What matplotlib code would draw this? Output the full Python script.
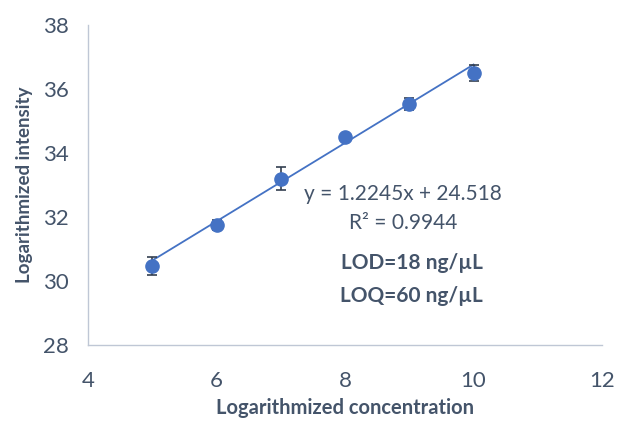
import numpy as np
import matplotlib
matplotlib.use('Agg')
import matplotlib.pyplot as plt

# Data
conc = [5, 6, 7, 8, 9, 10]
intensity = [30.47, 31.75, 33.19, 34.50, 35.53, 36.50]
err = [0.27, 0.15, 0.36, 0.08, 0.20, 0.25]
slope, intercept = 1.2245, 24.518

plt.rcParams['font.family'] = ['Lato', 'DejaVu Sans']
text_color = '#44546A'
axis_color = '#BFC7D5'
blue = '#4472C4'

fig = plt.figure(figsize=(6.26, 4.22), dpi=100)
ax = fig.add_axes([0.1406, 0.1825, 0.8211, 0.7583])

# trendline
xt = np.array([conc[0], conc[-1]])
ax.plot(xt, slope * xt + intercept, color=blue, lw=1.3, zorder=2)

ax.errorbar(conc, intensity, yerr=err, fmt='o', color=blue, ms=9.5,
            ecolor='#333F50', elinewidth=1.2, capsize=3.5, capthick=1.2, zorder=3)

ax.set_xlim(4, 12)
ax.set_ylim(28, 38)
ax.set_xticks([4, 6, 8, 10, 12])
ax.set_yticks([28, 30, 32, 34, 36, 38])
ax.tick_params(length=0, labelsize=16, labelcolor=text_color)
ax.tick_params(axis='x', pad=19)
ax.tick_params(axis='y', pad=14)
for s in ['top', 'right']:
    ax.spines[s].set_visible(False)
for s in ['left', 'bottom']:
    ax.spines[s].set_color(axis_color)
    ax.spines[s].set_linewidth(1.0)

ax.set_xlabel('Logarithmized concentration', fontsize=14.5, fontweight='bold',
              color=text_color, labelpad=5)
ax.set_ylabel('Logarithmized intensity', fontsize=13.5, fontweight='bold',
              color=text_color, labelpad=7)

ax.text(8.9, 32.72, 'y = 1.2245x + 24.518', fontsize=15, color=text_color,
        ha='center', va='center')
ax.text(8.9, 31.81, 'R² = 0.9944', fontsize=15, color=text_color,
        ha='center', va='center')
ax.text(9.04, 30.56, 'LOD=18 ng/µL', fontsize=15, color=text_color,
        ha='center', va='center', fontweight='bold')
ax.text(9.04, 29.53, 'LOQ=60 ng/µL', fontsize=15, color=text_color,
        ha='center', va='center', fontweight='bold')

fig.savefig('out.png', dpi=100)
